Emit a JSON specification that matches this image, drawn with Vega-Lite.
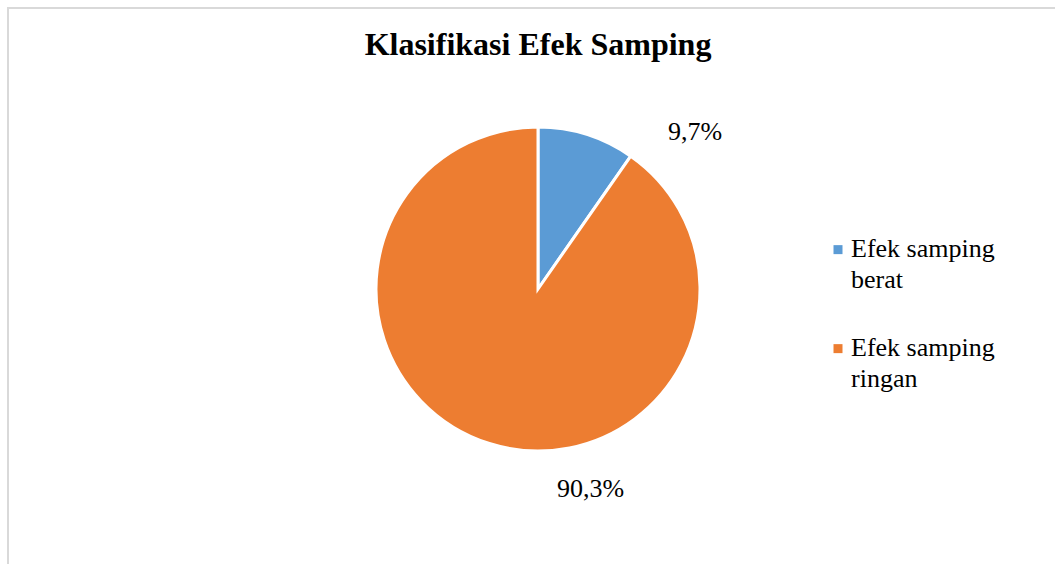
{
  "$schema": "https://vega.github.io/schema/vega-lite/v6.json",
  "autosize": "none",
  "width": 1060,
  "height": 562,
  "padding": {"left": 8, "top": 8, "right": 0, "bottom": 0},
  "background": "white",
  "view": {"stroke": "#d9d9d9", "strokeWidth": 2, "fill": "white"},
  "config": {
    "view": {"stroke": "#d9d9d9", "strokeWidth": 2},
    "font": "Liberation Serif",
    "style": {"guide-label": {"lineHeight": 31}}
  },
  "title": {
    "text": "Klasifikasi Efek Samping",
    "font": "Liberation Serif",
    "fontSize": 32,
    "fontWeight": "bold",
    "color": "#000000",
    "anchor": "middle",
    "frame": "group",
    "baseline": "alphabetic",
    "offset": -79
  },
  "data": {
    "values": [
      {"cat": "Efek samping berat", "value": 9.7, "pct": "9,7%"},
      {"cat": "Efek samping ringan", "value": 90.3, "pct": "90,3%"}
    ]
  },
  "encoding": {
    "theta": {"field": "value", "type": "quantitative", "stack": true},
    "color": {
      "field": "cat",
      "type": "nominal",
      "sort": ["Efek samping berat", "Efek samping ringan"],
      "scale": {"domain": ["Efek samping berat", "Efek samping ringan"], "range": ["#5B9BD5", "#ED7D31"]},
      "legend": {
        "title": null,
        "orient": "none",
        "legendX": 817,
        "legendY": 228,
        "symbolType": "M-1,-0.86H1V1.14H-1Z",
        "symbolSize": 81,
        "symbolStrokeWidth": 0,
        "labelFont": "Liberation Serif",
        "labelFontSize": 26,
        "labelColor": "#000000",
        "labelLimit": 300,
        "labelOffset": 0,
        "rowPadding": 42,
        "padding": 0,
        "labelExpr": "datum.label == 'Efek samping berat' ? ['Efek samping', 'berat'] : ['Efek samping', 'ringan']"
      }
    },
    "order": {"field": "value", "type": "quantitative", "sort": "ascending"}
  },
  "layer": [
    {
      "mark": {"type": "arc", "outerRadius": 162, "stroke": "white", "strokeWidth": 3}
    },
    {
      "mark": {"type": "text", "radius": 163, "align": "left", "baseline": "alphabetic", "dx": 81, "dy": 6.5, "fontSize": 26, "font": "Liberation Serif", "color": "#000000"},
      "encoding": {
        "color": {"value": "#000000"},
        "text": {"condition": {"test": "datum.cat === 'Efek samping berat'", "field": "pct"}, "value": ""}
      }
    },
    {
      "mark": {"type": "text", "radius": 163, "align": "left", "baseline": "alphabetic", "dx": 68, "dy": 53, "fontSize": 26, "font": "Liberation Serif", "color": "#000000"},
      "encoding": {
        "color": {"value": "#000000"},
        "text": {"condition": {"test": "datum.cat === 'Efek samping ringan'", "field": "pct"}, "value": ""}
      }
    }
  ]
}
